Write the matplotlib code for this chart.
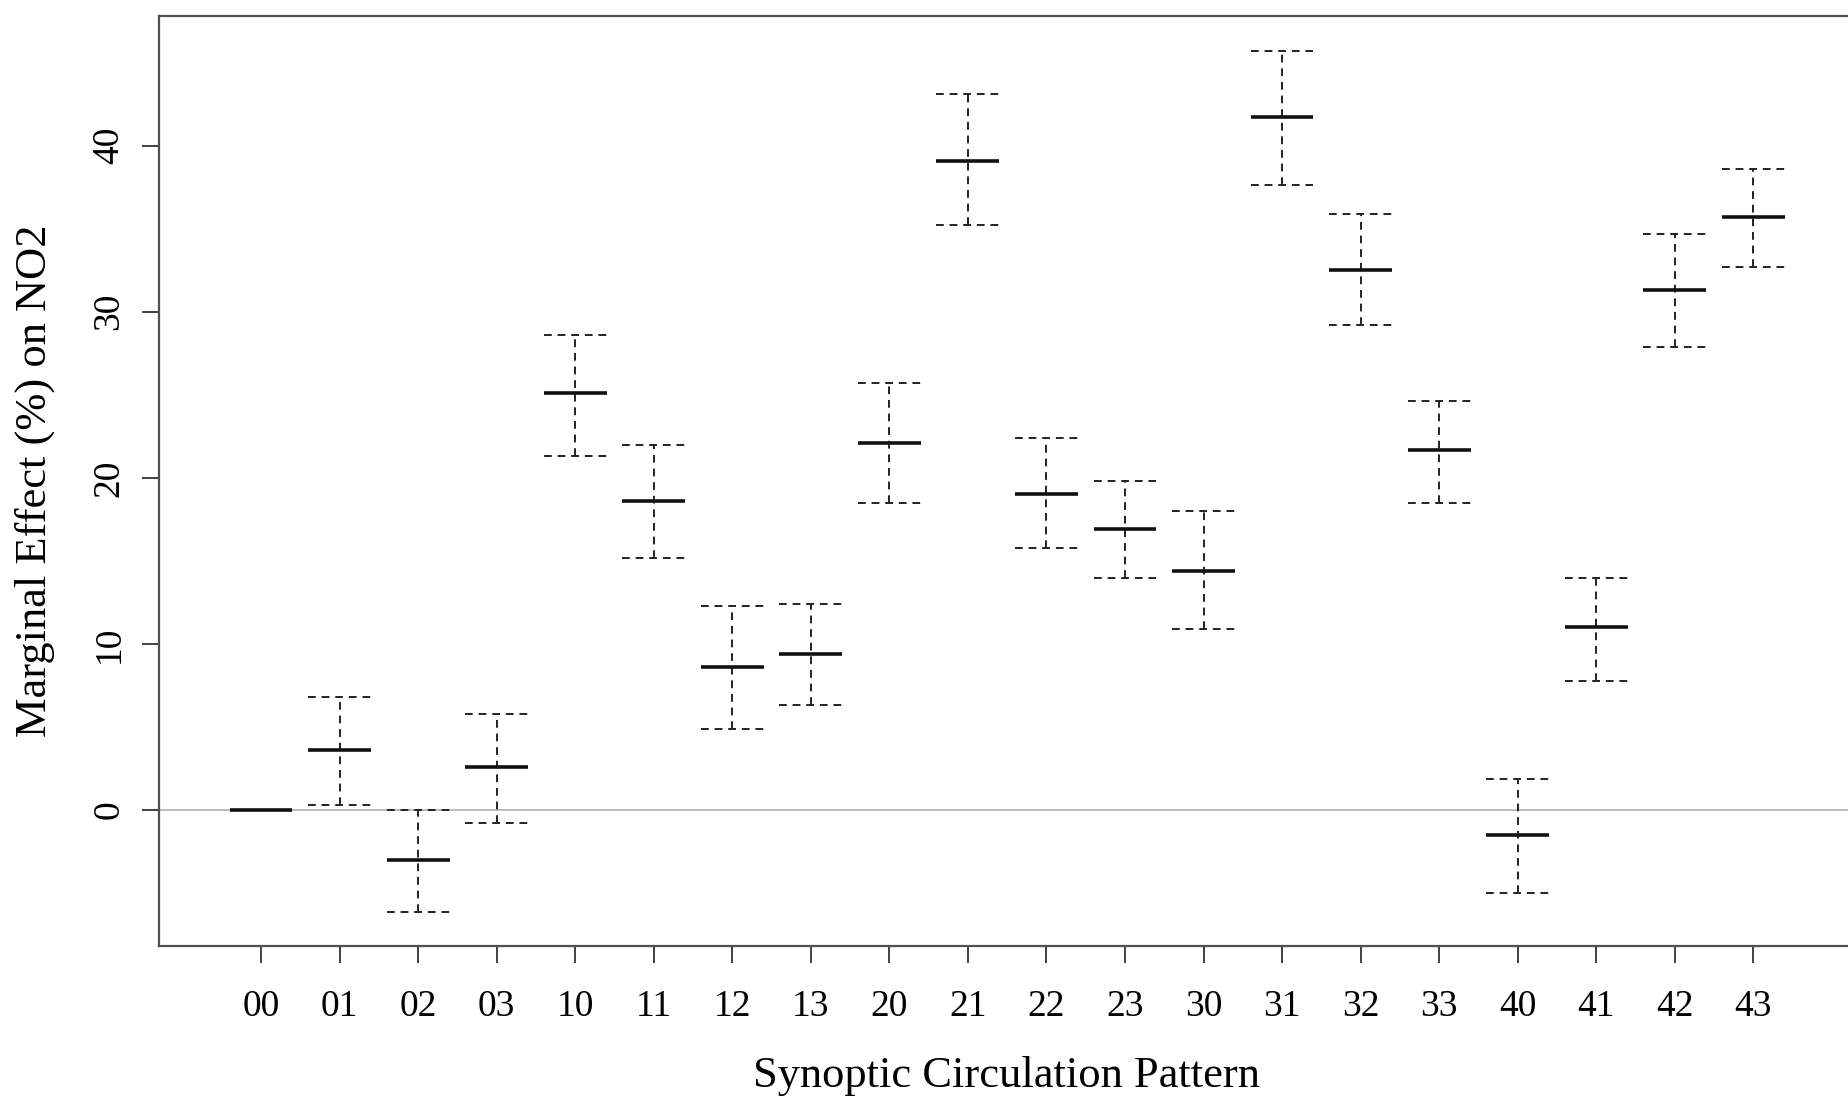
import matplotlib
matplotlib.use("Agg")
import matplotlib.pyplot as plt

# synoptic circulation patterns and marginal effects (%)
patterns = ["00", "01", "02", "03", "10", "11", "12", "13", "20", "21",
            "22", "23", "30", "31", "32", "33", "40", "41", "42", "43"]
effect = [0.0, 3.6, -3.0, 2.6, 25.1, 18.6, 8.6, 9.4, 22.1, 39.1,
          19.0, 16.9, 14.4, 41.7, 32.5, 21.7, -1.5, 11.0, 31.3, 35.7]
lower = [0.0, 0.3, -6.1, -0.8, 21.3, 15.2, 4.9, 6.3, 18.5, 35.2,
         15.8, 14.0, 10.9, 37.6, 29.2, 18.5, -5.0, 7.8, 27.9, 32.7]
upper = [0.0, 6.8, 0.0, 5.8, 28.6, 22.0, 12.3, 12.4, 25.7, 43.1,
         22.4, 19.8, 18.0, 45.7, 35.9, 24.6, 1.9, 14.0, 34.7, 38.6]

plt.rcParams['font.family'] = ['Liberation Serif', 'DejaVu Serif']

fig = plt.figure(figsize=(18.48, 11.02), dpi=100)
ax = fig.add_axes([0.086, 0.1416, 0.918, 0.8435])

x = list(range(1, len(patterns) + 1))
hw = 0.4
dash = (0, (4, 3))

ax.axhline(0, color='#b0b0b0', lw=1.2, zorder=1)
ax.vlines(x, lower, upper, colors='#222222', lw=1.4, linestyles=dash)
ax.hlines(lower, [i - hw for i in x], [i + hw for i in x], colors='#222222', lw=1.4, linestyles=dash)
ax.hlines(upper, [i - hw for i in x], [i + hw for i in x], colors='#222222', lw=1.4, linestyles=dash)
ax.hlines(effect, [i - hw for i in x], [i + hw for i in x], colors='#111111', lw=2.6, zorder=3)

lo, hi = min(lower), max(upper)
pad = 0.04 * (hi - lo)
ax.set_ylim(lo - pad, hi + pad)
ax.set_xlim(0.5 - 0.8, len(x) + 0.5 + 0.8)

ax.set_xticks(x)
ax.set_xticklabels(patterns)
ax.set_yticks([0, 10, 20, 30, 40])
ax.tick_params(axis='both', labelsize=27, length=12.5, width=1.3, color='#333333')
ax.tick_params(axis='x', pad=19)
ax.tick_params(axis='y', pad=11, labelrotation=90)
for lab in ax.get_yticklabels():
    lab.set_va('center')

for s in ax.spines.values():
    s.set_color('#505050')
    s.set_linewidth(1.6)

fig.text(0.5446, 0.0235, "Synoptic Circulation Pattern", ha='center', va='center', fontsize=32)
fig.text(0.019, 0.5635, "Marginal Effect (%) on NO2", ha='center', va='center',
         rotation=90, fontsize=32)

fig.savefig("out.png", dpi=100)
